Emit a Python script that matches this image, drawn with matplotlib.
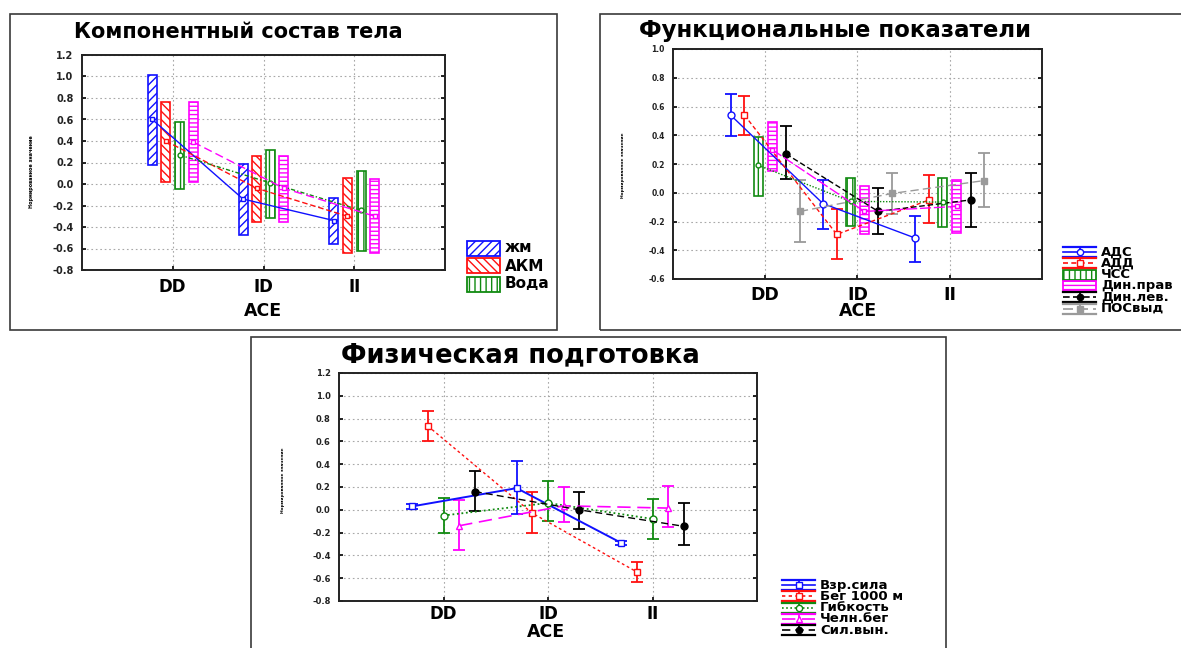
# Three Statistica-style panels: normalized values by ACE genotype (DD / ID / II)

import matplotlib.pyplot as plt
from matplotlib.patches import Rectangle
from matplotlib.lines import Line2D

plt.rcParams["font.family"] = ["DejaVu Sans"]
plt.rcParams["hatch.linewidth"] = 1.0

W, H = 1181, 648
groups = ["DD", "ID", "II"]
ylabel = "Нормированное значение"

# Компонентный состав тела (box = low..high, mark = mean)
body_names = ["жм", "АКМ", "Вода", "Дин.прав"]
body_mean = [[0.60, -0.14, -0.34], [0.40, -0.04, -0.30],
             [0.27, 0.01, -0.245], [0.39, -0.04, -0.30]]
body_low = [[0.18, -0.47, -0.56], [0.015, -0.35, -0.64],
            [-0.05, -0.32, -0.62], [0.02, -0.35, -0.64]]
body_high = [[1.01, 0.19, -0.13], [0.76, 0.26, 0.06],
             [0.575, 0.32, 0.12], [0.76, 0.26, 0.05]]

# Функциональные показатели
func_names = ["АДС", "АДД", "ЧСС", "Дин.прав", "Дин.лев.", "ПОСвыд"]
func_mean = [[0.54, -0.075, -0.315], [0.54, -0.29, -0.05], [0.19, -0.06, -0.065],
             [0.30, -0.13, -0.095], [0.27, -0.13, -0.05], [-0.13, -0.005, 0.085]]
func_low = [[0.395, -0.25, -0.48], [0.404, -0.46, -0.21], [-0.02, -0.23, -0.24],
            [0.15, -0.29, -0.28], [0.095, -0.29, -0.24], [-0.34, -0.15, -0.10]]
func_high = [[0.686, 0.09, -0.16], [0.674, -0.11, 0.125], [0.385, 0.10, 0.10],
             [0.49, 0.045, 0.09], [0.465, 0.03, 0.135], [0.09, 0.14, 0.275]]

# Физическая подготовка
phys_names = ["Взр.сила", "Бег 1000 м", "Гибкость", "Челн.бег", "Сил.вын."]
phys_mean = [[0.03, 0.19, -0.29], [0.735, -0.03, -0.545], [-0.05, 0.06, -0.08],
             [-0.14, 0.035, 0.015], [0.16, 0.00, -0.145]]
phys_low = [[0.004, -0.04, -0.31], [0.60, -0.20, -0.63], [-0.205, -0.095, -0.26],
            [-0.35, -0.105, -0.155], [-0.01, -0.165, -0.31]]
phys_high = [[0.054, 0.425, -0.27], [0.87, 0.16, -0.46], [0.107, 0.25, 0.095],
             [0.09, 0.20, 0.21], [0.34, 0.16, 0.06]]

BLUE, RED, GREEN, MAG, BLACK, GRAY = "#1010ff", "#ff1010", "#108a10", "#ff00ff", "#000000", "#9a9a9a"

fig = plt.figure(figsize=(W / 100, H / 100), dpi=100)


def fx(x):
    return x / W


def fy(y):
    return 1 - y / H


def style_axes(ax, ylim, yticks, ytick_fs, xtick_fs, xpad):
    ax.set_xlim(0, 4)
    ax.set_ylim(*ylim)
    ax.set_xticks([1, 2, 3])
    ax.set_xticklabels(groups, fontsize=xtick_fs, fontweight="bold")
    ax.set_yticks(yticks)
    ax.set_yticklabels([f"{v:.1f}" for v in yticks], fontsize=ytick_fs,
                       fontweight="bold", color="#222222")
    ax.grid(True, linestyle=(0, (1.5, 2.5)), color="#a8a8a8", lw=0.8)
    ax.set_axisbelow(True)
    for s in ax.spines.values():
        s.set_linewidth(1.4)
        s.set_color("#222222")
    ax.tick_params(axis="both", direction="in", length=3, width=1.2,
                   left=True, right=True, top=False, bottom=True)
    ax.tick_params(axis="y", pad=6)
    ax.tick_params(axis="x", pad=xpad)


def draw_box(ax, x, low, high, mean, color, hatch, ls, marker, width=0.1):
    ax.bar(x, [h - l for h, l in zip(high, low)], bottom=low, width=width,
           facecolor="white", edgecolor=color, hatch=hatch, lw=1.2, zorder=2)
    ax.plot(x, mean, color=color, ls=ls, lw=1, marker=marker, ms=3.5,
            mfc="white", mec=color, zorder=4)


def draw_err(ax, x, low, high, mean, color, ls, marker, mfc, ms=5, lw=1):
    ax.errorbar(x, mean, yerr=[[m - l for m, l in zip(mean, low)],
                               [h - m for h, m in zip(high, mean)]],
                color=color, ls=ls, lw=lw, marker=marker, ms=ms, mfc=mfc,
                mec=color, ecolor=color, elinewidth=1.3, capsize=4.5,
                capthick=1.3, zorder=3)


def legend_entry(x, y, label, color, fs, box_hatch=None, ls="-", marker="o",
                 mfc="white", w=33, h=12):
    if box_hatch is not None:
        fig.add_artist(Rectangle((fx(x), fy(y + h / 2)), w / W, h / H,
                                 transform=fig.transFigure, facecolor="white",
                                 edgecolor=color, hatch=box_hatch, lw=1.3))
    else:
        for yy in (y - h / 2, y + h / 2):
            fig.add_artist(Line2D([fx(x), fx(x + w)], [fy(yy), fy(yy)],
                                  transform=fig.transFigure, color=color, lw=1.6))
        fig.add_artist(Line2D([fx(x + w / 2)] * 2, [fy(y - h / 2), fy(y + h / 2)],
                              transform=fig.transFigure, color=color, lw=1.3))
        fig.add_artist(Line2D([fx(x), fx(x + w)], [fy(y), fy(y)],
                              transform=fig.transFigure, color=color, lw=1.2, ls=ls))
        fig.add_artist(Line2D([fx(x + w / 2)], [fy(y)], transform=fig.transFigure,
                              color=color, marker=marker, ms=4.5, mfc=mfc, mec=color))
    fig.text(fx(x + w + 5), fy(y), label, fontsize=fs, fontweight="bold",
             va="center", ha="left")


# panel frames
for (x0, y0, x1, y1) in [(10, 14, 557, 330), (600, 14, 1195, 330), (251, 337, 946, 660)]:
    fig.add_artist(Rectangle((fx(x0), fy(y1)), (x1 - x0) / W, (y1 - y0) / H,
                             transform=fig.transFigure, fill=False,
                             edgecolor="#3a3a3a", lw=1.2))

# ---------------- Panel 1 ----------------
ax1 = fig.add_axes([fx(82), fy(270), 363 / W, 215 / H])
style_axes(ax1, (-0.8, 1.2), [-0.8, -0.6, -0.4, -0.2, 0.0, 0.2, 0.4, 0.6, 0.8, 1.0, 1.2],
           7, 12, 6)
off4 = [-0.225, -0.075, 0.075, 0.225]
body_style = [(BLUE, "////", "-", "s"), (RED, "\\\\\\\\", (0, (4, 2)), "s"),
              (GREEN, "|||", (0, (3, 1.5, 1, 1.5)), "o"), (MAG, "----", (0, (6, 3)), "s")]
for i, (c, hatch, ls, mk) in enumerate(body_style):
    xs = [k + 1 + off4[i] for k in range(3)]
    draw_box(ax1, xs, body_low[i], body_high[i], body_mean[i], c, hatch, ls, mk)
fig.text(fx(238), fy(32), "Компонентный состав тела", fontsize=15,
         fontweight="bold", ha="center", va="center")
fig.text(fx(263), fy(311), "ACE", fontsize=12.5, fontweight="bold", ha="center", va="center")
fig.text(fx(31), fy(172), ylabel, fontsize=3.5, fontweight="bold", rotation=90,
         ha="center", va="center")
for i in range(3):
    c, hatch, ls, mk = body_style[i]
    legend_entry(467, 248 + i * 18, body_names[i], c, 11, box_hatch=hatch, h=15)

# ---------------- Panel 2 ----------------
ax2 = fig.add_axes([fx(673), fy(279), 369 / W, 230 / H])
style_axes(ax2, (-0.6, 1.0), [-0.6, -0.4, -0.2, 0.0, 0.2, 0.4, 0.6, 0.8, 1.0],
           5.5, 12.5, 5)
off6 = [-0.375, -0.225, -0.075, 0.075, 0.225, 0.375]
func_style = [(BLUE, None, "-", "o", "white"), (RED, None, (0, (3, 2)), "s", "white"),
              (GREEN, "|||", (0, (1, 1.2)), "o", "white"), (MAG, "----", (0, (8, 2)), "s", "white"),
              (BLACK, None, (0, (4, 2)), "o", BLACK), (GRAY, None, (0, (6, 3)), "s", GRAY)]
for i, (c, hatch, ls, mk, mfc) in enumerate(func_style):
    xs = [k + 1 + off6[i] for k in range(3)]
    if hatch:
        draw_box(ax2, xs, func_low[i], func_high[i], func_mean[i], c, hatch, ls, mk)
    else:
        draw_err(ax2, xs, func_low[i], func_high[i], func_mean[i], c, ls, mk, mfc)
fig.text(fx(835), fy(30), "Функциональные показатели", fontsize=16.5,
         fontweight="bold", ha="center", va="center")
fig.text(fx(858), fy(311), "ACE", fontsize=12.5, fontweight="bold", ha="center", va="center")
fig.text(fx(623), fy(165), ylabel, fontsize=3.2, fontweight="bold", rotation=90,
         ha="center", va="center")
for i, (c, hatch, ls, mk, mfc) in enumerate(func_style):
    legend_entry(1063, 252 + i * 11.3, func_names[i], c, 9.5, box_hatch=hatch,
                 ls=ls, marker=mk, mfc=mfc, h=10)

# ---------------- Panel 3 ----------------
ax3 = fig.add_axes([fx(339), fy(601), 418 / W, 228 / H])
style_axes(ax3, (-0.8, 1.2), [-0.8, -0.6, -0.4, -0.2, 0.0, 0.2, 0.4, 0.6, 0.8, 1.0, 1.2],
           6, 12, 3)
off5 = [-0.3, -0.15, 0.0, 0.15, 0.3]
phys_style = [(BLUE, "-", "s", "white", 1.4), (RED, (0, (2, 2)), "s", "white", 1),
              (GREEN, (0, (1, 1.5)), "o", "white", 1.3), (MAG, (0, (8, 4)), "^", "white", 1.2),
              (BLACK, (0, (5, 3)), "o", BLACK, 1)]
for i, (c, ls, mk, mfc, lw) in enumerate(phys_style):
    xs = [k + 1 + off5[i] for k in range(3)]
    draw_err(ax3, xs, phys_low[i], phys_high[i], phys_mean[i], c, ls, mk, mfc, lw=lw)
fig.text(fx(520), fy(355), "Физическая подготовка", fontsize=18.5,
         fontweight="bold", ha="center", va="center")
fig.text(fx(546), fy(632), "ACE", fontsize=12.5, fontweight="bold", ha="center", va="center")
fig.text(fx(283), fy(480), ylabel, fontsize=3.2, fontweight="bold", rotation=90,
         ha="center", va="center")
for i, (c, ls, mk, mfc, lw) in enumerate(phys_style):
    legend_entry(782, 585 + i * 11.3, phys_names[i], c, 9.5, ls=ls, marker=mk,
                 mfc=mfc, h=10)

fig.savefig("out.png", dpi=100)
